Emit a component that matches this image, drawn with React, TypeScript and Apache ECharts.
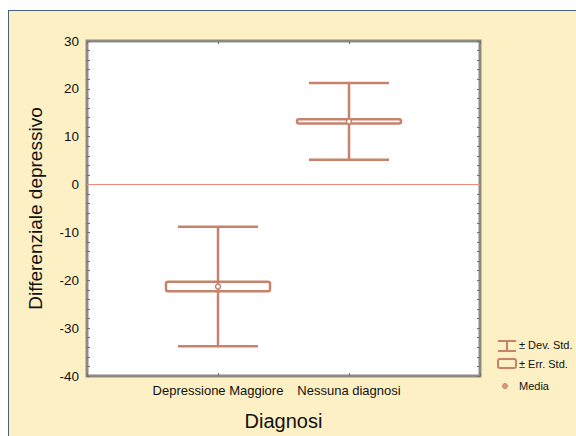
import React, { useEffect, useRef } from "react";
import * as echarts from "echarts";

const categories = ["Depressione Maggiore", "Nessuna diagnosi"];
const means = [-21.3, 13.2];
const stdErr = [1.0, 0.45];
const stdDev = [12.5, 8.0];
const yTicks = { min: -40, max: 30, interval: 10 };
const legendLabels = ["± Dev. Std.", "± Err. Std.", "Media"];
const xTitle = "Diagnosi";
const yTitle = "Differenziale depressivo";

const FONT = "'Liberation Sans Narrow', 'Arial Narrow', 'Liberation Sans', Arial, sans-serif";
const BROWN = "#c7826c";

export default function App() {
  const ref = useRef<HTMLDivElement>(null);
  useEffect(() => {
    if (!ref.current) return;
    const chart = echarts.init(ref.current, null, { renderer: "svg" });
    const axisCats = ["", ...categories, ""];
    const data = categories.map((_, i) => [i + 1, means[i], stdErr[i], stdDev[i]]);
    const tickStyle = { show: true, inside: true, length: 3, lineStyle: { color: "#6f6f6f", width: 1 } };
    chart.setOption({
      animation: false,
      backgroundColor: "transparent",
      grid: {
        left: 78,
        top: 30,
        width: 393,
        height: 336,
        show: true,
        backgroundColor: "#ffffff",
        borderColor: "#8d8985",
        borderWidth: 3,
      },
      xAxis: [
        {
          type: "category",
          data: axisCats,
          boundaryGap: false,
          axisLine: { show: false, onZero: false },
          axisTick: { ...tickStyle, interval: 0 },
          axisLabel: { fontFamily: FONT, fontSize: 13, color: "#111", margin: 8, interval: 0 },
          name: xTitle,
          nameLocation: "middle",
          nameGap: 35,
          nameTextStyle: { fontFamily: FONT, fontSize: 20, color: "#111" },
          splitLine: { show: false },
        },
        {
          type: "category",
          data: axisCats,
          boundaryGap: false,
          position: "top",
          axisLine: { show: false, onZero: false },
          axisTick: { ...tickStyle, interval: 0 },
          axisLabel: { show: false },
          splitLine: { show: false },
        },
      ],
      yAxis: [
        {
          type: "value",
          min: yTicks.min,
          max: yTicks.max,
          interval: yTicks.interval,
          axisLine: { show: false, onZero: false },
          axisTick: tickStyle,
          minorTick: { show: true, splitNumber: 5, length: 3, lineStyle: { color: "#6f6f6f", width: 1 } },
          axisLabel: { fontFamily: FONT, fontSize: 13.5, color: "#111", margin: 8 },
          splitLine: { show: false },
          name: yTitle,
          nameLocation: "middle",
          nameRotate: 90,
          nameGap: 42,
          nameTextStyle: { fontFamily: FONT, fontSize: 19, color: "#111" },
        },
        {
          type: "value",
          position: "right",
          min: yTicks.min,
          max: yTicks.max,
          interval: yTicks.interval,
          axisLine: { show: false, onZero: false },
          axisTick: tickStyle,
          minorTick: { show: true, splitNumber: 5, length: 3, lineStyle: { color: "#6f6f6f", width: 1 } },
          axisLabel: { show: false },
          splitLine: { show: false },
        },
      ],
      series: [
        {
          type: "custom",
          xAxisIndex: 0,
          yAxisIndex: 0,
          data,
          z: 3,
          markLine: {
            silent: true,
            symbol: "none",
            label: { show: false },
            lineStyle: { color: "#f08b78", width: 1, type: "solid", opacity: 1 },
            emphasis: { disabled: true },
            data: [{ yAxis: 0, lineStyle: { color: "#f08b78", width: 1, type: "solid" } }],
          },
          renderItem: (params: any, api: any) => {
            const x = api.value(0);
            const m = api.value(1);
            const se = api.value(2);
            const sd = api.value(3);
            const pm = api.coord([x, m]);
            const ph = api.coord([x, m + sd]);
            const pl = api.coord([x, m - sd]);
            const sh = api.coord([x, m + se]);
            const sl = api.coord([x, m - se]);
            const cap = 40;
            const box = 52;
            const st = { stroke: BROWN, lineWidth: 2.5, fill: null };
            return {
              type: "group",
              children: [
                { type: "line", shape: { x1: pm[0], y1: ph[1], x2: pm[0], y2: pl[1] }, style: st },
                { type: "line", shape: { x1: pm[0] - cap, y1: ph[1], x2: pm[0] + cap, y2: ph[1] }, style: st },
                { type: "line", shape: { x1: pm[0] - cap, y1: pl[1], x2: pm[0] + cap, y2: pl[1] }, style: st },
                {
                  type: "rect",
                  shape: { x: pm[0] - box, y: sh[1], width: box * 2, height: sl[1] - sh[1], r: 2 },
                  style: { stroke: BROWN, lineWidth: 2.5, fill: "none" },
                },
                {
                  type: "circle",
                  shape: { cx: pm[0], cy: pm[1], r: 2.5 },
                  style: { stroke: BROWN, lineWidth: 1.5, fill: "#ffffff" },
                },
              ],
            };
          },
        },
      ],
      graphic: [
        { type: "line", shape: { x1: 489, y1: 330, x2: 507, y2: 330 }, style: { stroke: BROWN, lineWidth: 2 } },
        { type: "line", shape: { x1: 489, y1: 340, x2: 507, y2: 340 }, style: { stroke: BROWN, lineWidth: 2 } },
        { type: "line", shape: { x1: 498, y1: 330, x2: 498, y2: 340 }, style: { stroke: BROWN, lineWidth: 2 } },
        { type: "rect", shape: { x: 489, y: 348, width: 18, height: 9, r: 2 }, style: { stroke: BROWN, lineWidth: 2, fill: "none" } },
        { type: "circle", shape: { cx: 496, cy: 375, r: 2.5 }, style: { fill: "#d59a84", stroke: "#c7826c", lineWidth: 1 } },
        { type: "text", x: 510, y: 334, style: { text: legendLabels[0], fontFamily: FONT, fontSize: 11, fill: "#111", verticalAlign: "middle" } },
        { type: "text", x: 510, y: 353, style: { text: legendLabels[1], fontFamily: FONT, fontSize: 11, fill: "#111", verticalAlign: "middle" } },
        { type: "text", x: 510, y: 375, style: { text: legendLabels[2], fontFamily: FONT, fontSize: 11, fill: "#111", verticalAlign: "middle" } },
      ],
    });
    return () => chart.dispose();
  }, []);
  return (
    <div
      style={{
        position: "absolute",
        left: 8,
        top: 10,
        width: 567,
        height: 425,
        background: "#fdf0c4",
        borderTop: "1px solid #46607e",
        borderLeft: "1px solid #46607e",
      }}
    >
      <div ref={ref} style={{ width: 567, height: 425 }} />
    </div>
  );
}
